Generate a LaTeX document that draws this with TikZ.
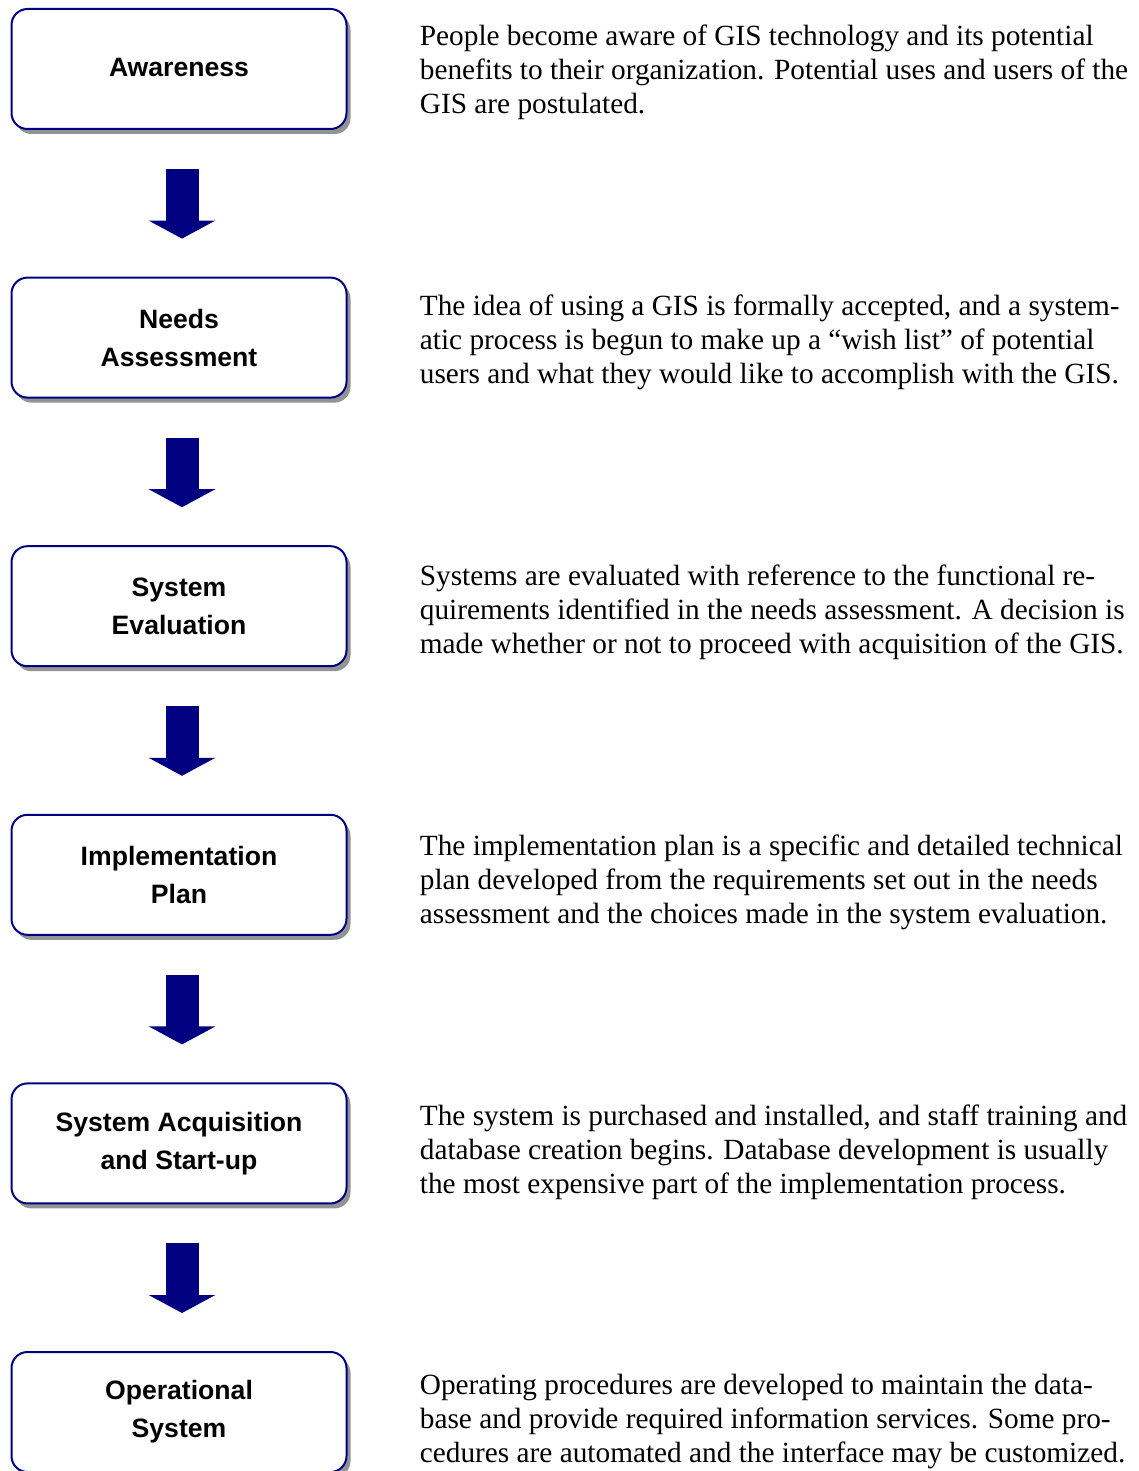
\documentclass[tikz,border=0pt]{standalone}
\usepackage{fontspec}
\setmainfont{Liberation Serif}
\setsansfont{Liberation Sans}
\usetikzlibrary{positioning,shadows,arrows.meta}
\definecolor{navy1}{HTML}{000080}
\tikzset{>={Triangle[length=9pt,width=33pt]}}
\tikzstyle{stage}=[draw=navy1,line width=1pt,fill=white,rounded corners=8pt,
  minimum width=167.5pt,minimum height=60pt,align=center,
  font=\sffamily\bfseries\fontsize{13.3}{19}\selectfont,
  drop shadow={shadow xshift=2pt,shadow yshift=-2.5pt,fill=gray!85,opacity=1}]
\tikzstyle{blurb}=[inner sep=0pt,anchor=west,align=left,font=\fontsize{14.65}{17}\selectfont]
\tikzstyle{flow}=[->,navy1,line width=16.5pt,shorten <=19.5pt,shorten >=19pt]

\begin{document}
\begin{tikzpicture}[x=0.5pt,y=0.5pt]
  \useasboundingbox (0,0) rectangle (1139,-1471);
  \clip (0,0) rectangle (1139,-1471);
  % stages
  \node[stage] (aware) at (179,-69) {\raisebox{1.5pt}{Awareness}};
  \node[stage,below=73.3pt of aware] (needs) {Needs\\Assessment};
  \node[stage,below=73.3pt of needs] (eval) {System\\Evaluation};
  \node[stage,below=73.3pt of eval] (plan) {Implementation\\Plan};
  \node[stage,below=73.3pt of plan] (acq) {System Acquisition\\and Start-up};
  \node[stage,below=73.3pt of acq] (oper) {Operational\\System};
  % descriptions
  \node[blurb,right=36pt of aware,yshift=-1.5pt] (awaretxt) {People become aware of GIS technology and its potential\\
    benefits to their organization.  Potential uses and users of the\\GIS are postulated.};
  \node[blurb,right=36pt of needs,yshift=-2.5pt] (needstxt) {The idea of using a GIS is formally accepted, and a system-\\
    atic process is begun to make up a “wish list” of potential\\users and what they would like to accomplish with the GIS.};
  \node[blurb,right=36pt of eval,yshift=-3pt] (evaltxt) {Systems are evaluated with reference to the functional re-\\
    quirements identified in the needs assessment.  A decision is\\made whether or not to proceed with acquisition of the GIS.};
  \node[blurb,right=36pt of plan,yshift=-4pt] (plantxt) {The implementation plan is a specific and detailed technical\\
    plan developed from the requirements set out in the needs\\assessment and the choices made in the system evaluation.};
  \node[blurb,right=36pt of acq,yshift=-4.5pt] (acqtxt) {The system is purchased and installed, and staff training and\\
    database creation begins.  Database development is usually\\the most expensive part of the implementation process.};
  \node[blurb,right=36pt of oper,yshift=-4.5pt] (opertxt) {Operating procedures are developed to maintain the data-\\
    base and provide required information services.  Some pro-\\cedures are automated and the interface may be customized.};
  % arrows
  \foreach \a/\b in {aware/needs,needs/eval,eval/plan,plan/acq,acq/oper}
    \draw[flow] ([xshift=1.5pt]\a.south) -- ([xshift=1.5pt]\b.north);
\end{tikzpicture}
\end{document}
